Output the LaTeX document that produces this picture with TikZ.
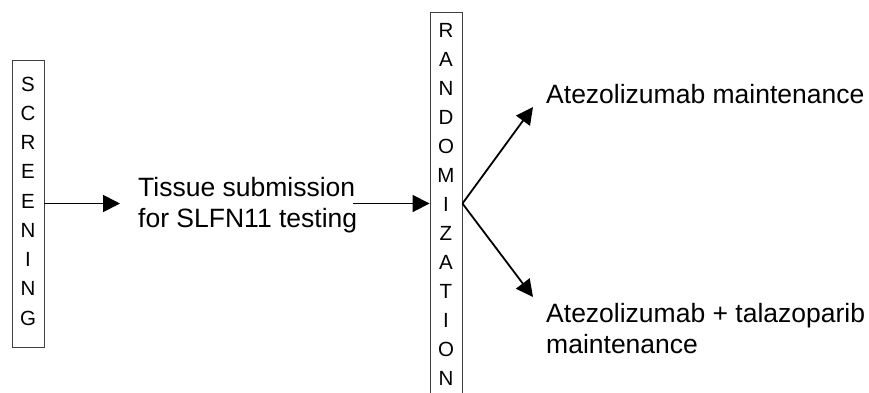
\documentclass[tikz,border=0pt]{standalone}
\usepackage{fontspec}
\setmainfont{Liberation Sans}
\usetikzlibrary{arrows.meta}
\begin{document}
\begin{tikzpicture}[x=1pt,y=-1pt,
  boxst/.style={draw=black!75, line width=0.9pt, inner sep=0pt, minimum width=32pt},
  letter/.style={font=\fontsize{20.5pt}{24pt}\selectfont, anchor=base, inner sep=0pt},
  lab/.style={font=\fontsize{26.5pt}{31pt}\selectfont, align=left, inner sep=0pt},
  arr/.style={line width=1.8pt, -{Triangle[length=17pt,width=17pt]}}]
\useasboundingbox (0,0) rectangle (869,392);
% boxes
\node[boxst, minimum height=287pt] (scr) at (28,203.5) {};
\node[boxst, minimum height=384pt] (rand) at (446,204) {};
% letters
\foreach \c [count=\i from 0] in {S,C,R,E,E,N,I,N,G}
  \node[letter] (s\i) at (28,91+29.25*\i) {\c};
\foreach \c [count=\i from 0] in {R,A,N,D,O,M,I,Z,A,T,I,O,N}
  \node[letter] (r\i) at (446,37+29*\i) {\c};
% labels (base anchor = baseline of last line)
\node[lab, anchor=base west] (tissue) at (138,227) {Tissue submission\\for SLFN11 testing};
\node[lab, anchor=base west] (atz) at (546,103) {Atezolizumab maintenance};
\node[lab, anchor=base west] (atzt) at (546,353) {Atezolizumab + talazoparib\\maintenance};
% connectors
\coordinate (tout) at (353,203.5);
\coordinate (up) at (533,107);
\coordinate (down) at (533,297);
\draw[arr] (scr.east) -- ([xshift=-18pt]tissue.west |- scr.east);
\draw[arr] (tout) -- (rand.west |- tout);
\draw[arr] (rand.east |- tout) -- (up);
\draw[arr] (rand.east |- tout) -- (down);
\end{tikzpicture}
\end{document}
